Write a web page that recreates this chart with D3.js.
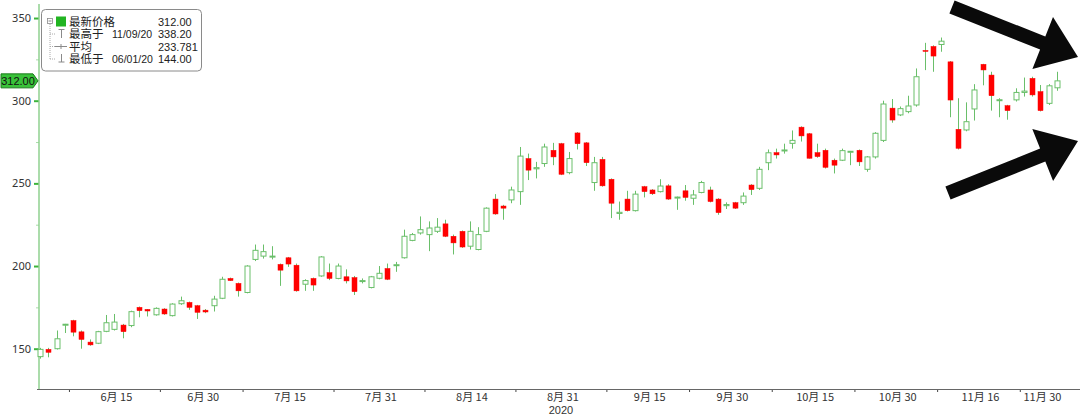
<!DOCTYPE html>
<html>
<head>
<meta charset="utf-8">
<script src="https://cdn.jsdelivr.net/npm/d3@7"></script>
<style>
  body { margin: 0; background: #fff; }
  .chart text { font-family: "Noto Sans CJK SC", "Noto Sans", sans-serif; }
</style>
</head>
<body>
<div class="chart"></div>
<script>
// trading days, June 1 - Nov 30 2020
var dates = [
  "06/01","06/02","06/03","06/04","06/05","06/08","06/09","06/10","06/11","06/12","06/15","06/16","06/17","06/18","06/19","06/22","06/23","06/24","06/25","06/26","06/29","06/30",
  "07/01","07/02","07/03","07/06","07/07","07/08","07/09","07/10","07/13","07/14","07/15","07/16","07/17","07/20","07/21","07/22","07/27","07/28","07/29","07/30","07/31",
  "08/03","08/04","08/05","08/06","08/07","08/11","08/12","08/13","08/14","08/17","08/18","08/19","08/20","08/21","08/24","08/25","08/26","08/27","08/28","08/31",
  "09/01","09/02","09/03","09/04","09/07","09/08","09/09","09/10","09/11","09/14","09/15","09/16","09/17","09/18","09/23","09/24","09/25","09/28","09/29","09/30",
  "10/01","10/02","10/05","10/06","10/07","10/08","10/09","10/12","10/13","10/14","10/15","10/16","10/19","10/20","10/21","10/22","10/23","10/26","10/27","10/28","10/29","10/30",
  "11/02","11/04","11/05","11/06","11/09","11/10","11/11","11/12","11/13","11/16","11/17","11/18","11/19","11/20","11/24","11/25","11/26","11/27","11/30"
];

var opens = [
  145.2,149.6,150,164.3,167,160.2,154,153.3,160.5,161.7,164.3,164,175,173.8,170.5,174,170,177.2,178,176,173.3,176,
  180.5,192.5,189.5,184,204,206,205.6,201,205,200.5,189,192.5,194,196,192.5,193.5,193,190.8,187,192.6,198.5,
  200.2,205,215.5,220,219,221,225.5,218,221,212,210,221,240.5,236.3,240,245,265,258.8,262,270,
  274,256.5,280.5,274.5,250.5,264.5,252.5,231.8,240.5,233.5,248,246,245,248.5,241.3,245.5,241,244.5,246,240.5,
  236.5,238.3,238.3,249,247,262.5,268.6,269.8,274.2,284,280,268.6,270,264,264,269,270,258.5,266,
  276,295.5,291.4,293.4,297.4,330.4,332.8,334,323.5,282.7,282.3,295,322,315.5,300.2,297,300.5,305,313.5,305.5,298.4,307.8
];
var highs = [
  150.5,150.5,161,165,167.5,161,155.6,160.8,170.4,171,165,173,175.5,174,175,174.5,177.5,181.5,178.5,176.5,174,182,
  193.5,193,190,200.5,213,213,212,201.5,205.5,201.5,192,193,206,201.5,201.5,198,194,192.5,194,200,201.5,
  202.5,222,220,230,227,229,228,219,221.5,227,223.5,235.5,243.5,237,248,272,268,263,274,274.5,
  274.5,269,281,275,266,266,253,239,245.5,245.5,248.5,246.5,252.5,249.5,242,249,246,251.5,248,241,
  238.5,238.8,244.5,249.5,260,270.5,271,274,282,284.5,280.5,274,271,265,271,269.6,270.5,266.5,281,
  300,301,296.5,303,319.5,335,333.5,338.2,324,301.5,299,310,322.3,317.5,301.5,297.5,307.5,314,314.5,309.5,310,317.5
];
var lows = [
  144,144.8,149.5,159.5,157.5,150,151.8,152.8,160,161,156.3,163,169,169.5,170,170.5,169.5,176.5,173.5,168,171.5,172.5,
  180,191,181.5,183.5,203,204.5,204,188,199.5,184.5,185,185,193.5,191.5,192,189.5,182.5,189.5,186.5,192,191.5,
  196.5,204.5,215,219,209,220,217.5,207,211,210,209.5,220.5,231,228,238,237,252,253,260,261,
  255,255.5,270.5,260.5,245.5,248,229,228,233,233,241.5,243,244.5,240,234,239.5,237,244,238.5,231,
  234.5,234.5,237,243,246,258,265,268,271,275.3,265,265.5,259,256,263.5,261,260.5,257,265,
  275,286.7,290.7,292.4,296.4,318.5,317.5,329.6,290,270.5,281.5,288,309.3,294,290,288.5,299.5,302.5,302.5,293.5,297.4,306
];
var closes = [
  149.6,147.8,156,164.8,160,155.6,152.3,160.3,165.7,166.1,160.3,172.4,173,172.8,174.4,171,177,179,175,172,172.2,180,
  192,191.2,185,200,209.5,208.7,206,197.5,201.2,185,191.2,188.5,205.5,192.5,200,191,184.5,191.2,193.5,195.6,192,
  200.8,218,219,222,223,223.5,218,214,211.5,221,219,235,231.5,235,246,266.5,258,259.5,272,266,
  255.5,265,274,262.5,262.5,248.5,238,232.5,233.5,243.5,245,243.7,248.4,240.5,241.7,241.5,243,250.5,239,232.3,
  237.2,235,242.3,246.2,258.5,268.5,267.2,270.2,276,278.7,265.2,266.2,259.7,261,269.8,269.4,263,266,280.3,
  298,288.3,295.2,296.8,314.5,330,327,336,300.4,271.2,287.3,306.5,318.6,303,300.6,294,305,305.8,303.5,294,309,312
];

var yTicks = [150, 200, 250, 300, 350];
var yMinorTicks = [175, 225, 275, 325];
// x-axis ticks sit just after these days; labels sit between ticks
var tickDates = ["06/04","06/19","07/03","07/20","08/06","08/24","09/08","09/24","10/08","10/22","11/06","11/20"];
var tickLabels = ["6月 15","6月 30","7月 15","7月 31","8月 14","8月 31","9月 15","9月 30","10月 15","10月 30","11月 16","11月 30"];
var yearLabel = "2020";
var legendRows = [
  { name: "最新价格", date: "", value: "312.00" },
  { name: "最高于", date: "11/09/20", value: "338.20" },
  { name: "平均", date: "", value: "233.781" },
  { name: "最低于", date: "06/01/20", value: "144.00" }
];
var lastPrice = 312.00;

var svgWidth = 1080;
var svgHeight = 416;
var plotLeft = 39, plotTop = 4, plotBottom = 389;

var upColor = "#6abf6a";
var downColor = "#ff0000";
var latin = "'Liberation Sans', Arial, sans-serif";

var svg = d3.select(".chart")
  .append("svg")
  .attr("width", svgWidth)
  .attr("height", svgHeight);

var x = d3.scaleLinear()
  .domain([0, dates.length - 1])
  .range([40, 1057]);

var y = d3.scaleLinear()
  .domain([150, 300])
  .range([348.7, 100.7]);

var candles = dates.map(function(d, i) {
  return { date: d, i: i, open: opens[i], high: highs[i], low: lows[i], close: closes[i] };
});

// y axis
var yAxis = svg.append("g")
  .attr("transform", "translate(" + plotLeft + ",0)")
  .call(d3.axisLeft(y).tickValues(yTicks).tickSize(5).tickSizeOuter(0).tickPadding(3));
yAxis.select(".domain").remove();
yAxis.selectAll("line").attr("stroke", "#3cb43c").attr("stroke-width", 2);
yAxis.selectAll("text")
  .attr("fill", "#333")
  .style("font-family", "'Noto Sans', sans-serif")
  .style("font-size", "11px");

var yMinor = svg.append("g")
  .attr("transform", "translate(" + plotLeft + ",0)")
  .call(d3.axisLeft(y).tickValues(yMinorTicks).tickSize(3).tickFormat(""));
yMinor.select(".domain").remove();
yMinor.selectAll("line").attr("stroke", "#a8dca8");

svg.append("line")
  .attr("x1", plotLeft).attr("x2", plotLeft)
  .attr("y1", plotTop).attr("y2", plotBottom)
  .attr("stroke", "#8fd18f")
  .attr("stroke-width", 1.5);

// x axis
var tickPos = tickDates.map(function(d) { return dates.indexOf(d) + 0.5; });
var xAxis = svg.append("g")
  .attr("transform", "translate(0," + plotBottom + ")")
  .call(d3.axisBottom(x).tickValues(tickPos).tickSize(3).tickFormat(""));
xAxis.select(".domain").remove();
xAxis.selectAll("line").attr("stroke", "#444");

svg.append("line")
  .attr("x1", plotLeft - 2).attr("x2", svgWidth)
  .attr("y1", plotBottom + 0.5).attr("y2", plotBottom + 0.5)
  .attr("stroke", "#666");

var bounds = tickPos.concat([dates.length - 0.5]);
svg.append("g").selectAll("text")
  .data(tickLabels)
  .enter()
  .append("text")
  .attr("x", function(d, i) { return (x(bounds[i]) + x(bounds[i + 1])) / 2 + 2; })
  .attr("y", plotBottom + 12)
  .attr("text-anchor", "middle")
  .attr("fill", "#333")
  .style("font-size", "11px")
  .text(function(d) { return d; });

var yearIdx = tickLabels.indexOf("8月 31");
svg.append("text")
  .attr("x", (x(bounds[yearIdx]) + x(bounds[yearIdx + 1])) / 2)
  .attr("y", plotBottom + 25)
  .attr("text-anchor", "middle")
  .attr("fill", "#333")
  .style("font-family", latin)
  .style("font-size", "11px")
  .text(yearLabel);

// candles
var g = svg.append("g").selectAll("g")
  .data(candles)
  .enter()
  .append("g")
  .attr("transform", function(d) { return "translate(" + (Math.round(x(d.i)) + 0.5) + ",0)"; });

g.append("line")
  .attr("y1", function(d) { return y(d.high); })
  .attr("y2", function(d) { return y(d.low); })
  .attr("stroke", upColor)
  .attr("stroke-width", 1);

g.append("rect")
  .attr("x", -2.5)
  .attr("width", 5)
  .attr("y", function(d) { return y(Math.max(d.open, d.close)); })
  .attr("height", function(d) { return Math.max(1, Math.abs(y(d.open) - y(d.close))); })
  .attr("fill", function(d) { return d.close >= d.open ? "#fff" : downColor; })
  .attr("stroke", function(d) { return d.close >= d.open ? upColor : downColor; })
  .attr("stroke-width", function(d) { return d.close >= d.open ? 1 : 0.5; });

// last price tag
var ty = y(lastPrice);
svg.append("path")
  .attr("d", "M1," + (ty - 7) + "H33L38," + ty + "L33," + (ty + 7) + "H1Z")
  .attr("fill", "#39c239")
  .attr("stroke", "#1d7a1d");
svg.append("text")
  .attr("x", 18)
  .attr("y", ty + 4)
  .attr("text-anchor", "middle")
  .attr("fill", "#111")
  .style("font-family", latin)
  .style("font-size", "11px")
  .text(lastPrice.toFixed(2));

// legend
var legend = svg.append("g");
legend.append("rect")
  .attr("x", 41.5).attr("y", 9.5)
  .attr("width", 160).attr("height", 61.5)
  .attr("rx", 4)
  .attr("fill", "#fff")
  .attr("stroke", "#8a8a8a");

var rowY = [21.5, 34, 46.5, 59];
var iconColor = "#8a8a8a";
legend.append("rect").attr("x", 47.5).attr("y", 18.5).attr("width", 5).attr("height", 5)
  .attr("fill", "#fff").attr("stroke", iconColor).attr("stroke-width", 0.8);
legend.append("line").attr("x1", 48.5).attr("x2", 51.5).attr("y1", 21).attr("y2", 21).attr("stroke", iconColor);
legend.append("line").attr("x1", 50).attr("x2", 50).attr("y1", 24).attr("y2", 59)
  .attr("stroke", "#aaa").attr("stroke-dasharray", "1,1");
rowY.slice(1).forEach(function(ry) {
  legend.append("line").attr("x1", 50).attr("x2", 55).attr("y1", ry).attr("y2", ry)
    .attr("stroke", "#aaa").attr("stroke-dasharray", "1,1");
});
legend.append("rect").attr("x", 56).attr("y", 16.5).attr("width", 10).attr("height", 10).attr("fill", "#22b422");
legend.append("path").attr("d", "M58.5,29.5H64.5M61.5,29.5V38").attr("stroke", iconColor).attr("fill", "none");
legend.append("path").attr("d", "M55,46.5H67M61,44V49").attr("stroke", iconColor).attr("fill", "none");
legend.append("path").attr("d", "M61.5,54V62M58.5,62H64.5").attr("stroke", iconColor).attr("fill", "none");

var rows = legend.selectAll("g.row")
  .data(legendRows)
  .enter()
  .append("g")
  .attr("class", "row")
  .attr("transform", function(d, i) { return "translate(0," + (rowY[i] + 4) + ")"; });
rows.append("text").attr("x", 69).attr("fill", "#222").style("font-size", "11.5px")
  .text(function(d) { return d.name; });
rows.append("text").attr("x", 112).attr("fill", "#222")
  .style("font-family", latin).style("font-size", "10.5px")
  .text(function(d) { return d.date; });
rows.append("text").attr("x", 158).attr("fill", "#222")
  .style("font-family", latin).style("font-size", "11px")
  .text(function(d) { return d.value; });

// annotation arrows
var arrows = [
  { from: [952, 7], to: [1078, 57] },
  { from: [948, 193], to: [1078, 141] }
];
function arrowPath(a) {
  var dx = a.to[0] - a.from[0], dy = a.to[1] - a.from[1];
  var len = Math.sqrt(dx * dx + dy * dy);
  var ux = dx / len, uy = dy / len, nx = -uy, ny = ux;
  var w = 7, hw = 28, hl = 38;
  var bx = a.to[0] - ux * hl, by = a.to[1] - uy * hl;
  var pts = [
    [a.from[0] + nx * w, a.from[1] + ny * w],
    [bx + nx * w, by + ny * w],
    [bx + nx * hw, by + ny * hw],
    a.to,
    [bx - nx * hw, by - ny * hw],
    [bx - nx * w, by - ny * w],
    [a.from[0] - nx * w, a.from[1] - ny * w]
  ];
  return "M" + pts.map(function(p) { return p[0].toFixed(1) + "," + p[1].toFixed(1); }).join("L") + "Z";
}
svg.append("g").selectAll("path")
  .data(arrows)
  .enter()
  .append("path")
  .attr("d", arrowPath)
  .attr("fill", "#0a0a0a");
</script>
</body>
</html>
